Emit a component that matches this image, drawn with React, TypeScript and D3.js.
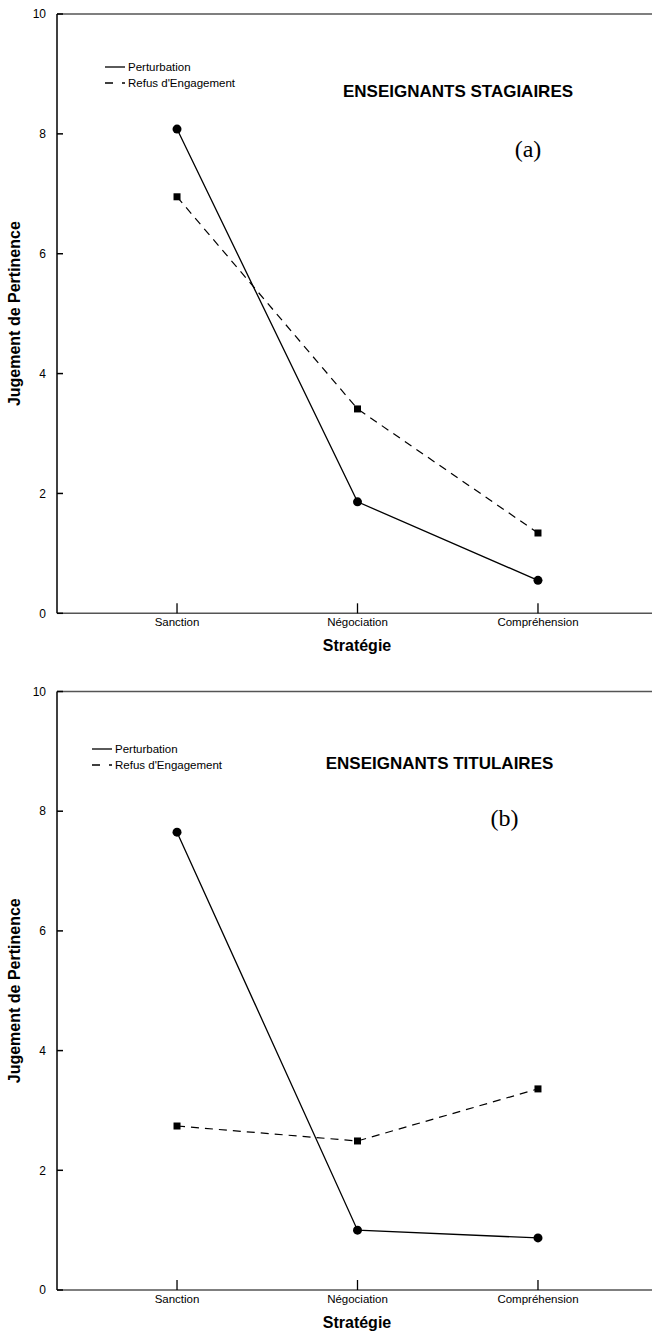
import React from "react";
import * as d3 from "d3";

const categories = ["Sanction", "Négociation", "Compréhension"];
const yTicks = [0, 2, 4, 6, 8, 10];
const stagPerturbation = [8.08, 1.86, 0.55];
const stagRefus = [6.95, 3.41, 1.34];
const titPerturbation = [7.65, 1.0, 0.87];
const titRefus = [2.74, 2.49, 3.36];
const legendLabels = ["Perturbation", "Refus d'Engagement"];

const W = 652;
const H = 1338;
const SANS = "'Liberation Sans', Arial, sans-serif";
const SERIF = "'Liberation Serif', 'Times New Roman', serif";

type PanelProps = {
  top: number;
  bottom: number;
  title: string;
  letter: string;
  perturbation: number[];
  refus: number[];
  titleX: number;
  titleY: number;
  letterX: number;
  letterY: number;
  legendX: number;
  legendY: number;
};

function Panel(p: PanelProps) {
  const left = 57;
  const right = 658;
  const x = d3.scalePoint<string>().domain(categories).range([left, right]).padding(0.665);
  const y = d3.scaleLinear().domain([0, 10]).range([p.bottom, p.top]);
  const line = d3
    .line<number>()
    .x((_, i) => x(categories[i]) as number)
    .y((d) => y(d));
  const midY = (p.top + p.bottom) / 2;
  return (
    <g>
      {/* frame */}
      <line x1={left} x2={W} y1={p.top} y2={p.top} stroke="#555" strokeWidth={1.5} />
      <line x1={left} x2={W} y1={p.bottom} y2={p.bottom} stroke="#555" strokeWidth={1.5} />
      <line x1={left} x2={left} y1={p.top} y2={p.bottom} stroke="#000" strokeWidth={1.5} />
      {yTicks.map((t) => (
        <g key={t}>
          <line x1={left} x2={left + 6} y1={y(t)} y2={y(t)} stroke="#000" strokeWidth={1.5} />
          <text x={left - 11} y={y(t)} dy="0.35em" textAnchor="end" fontFamily={SANS} fontSize={12}>
            {t}
          </text>
        </g>
      ))}
      {categories.map((c) => (
        <g key={c}>
          <line x1={x(c)} x2={x(c)} y1={p.bottom} y2={p.bottom - 10} stroke="#000" strokeWidth={1.3} />
          <text x={x(c)} y={p.bottom + 13} textAnchor="middle" fontFamily={SANS} fontSize={11.5}>
            {c}
          </text>
        </g>
      ))}
      <text x={357} y={p.bottom + 38} textAnchor="middle" fontFamily={SANS} fontSize={16} fontWeight="bold">
        Stratégie
      </text>
      <text
        transform={`translate(20,${midY}) rotate(-90)`}
        textAnchor="middle"
        fontFamily={SANS}
        fontSize={16}
        fontWeight="bold"
      >
        Jugement de Pertinence
      </text>
      {/* series */}
      <path d={line(p.refus) || ""} fill="none" stroke="#000" strokeWidth={1.2} strokeDasharray="8,6" />
      <path d={line(p.perturbation) || ""} fill="none" stroke="#000" strokeWidth={1.3} />
      {p.perturbation.map((v, i) => (
        <circle key={i} cx={x(categories[i])} cy={y(v)} r={4.5} fill="#000" />
      ))}
      {p.refus.map((v, i) => (
        <rect key={i} x={(x(categories[i]) as number) - 3.5} y={y(v) - 3.5} width={7} height={7} fill="#000" />
      ))}
      {/* legend */}
      <line x1={p.legendX} x2={p.legendX + 20} y1={p.legendY} y2={p.legendY} stroke="#000" strokeWidth={1.3} />
      <text x={p.legendX + 23} y={p.legendY} dy="0.35em" fontFamily={SANS} fontSize={11.5}>
        {legendLabels[0]}
      </text>
      <line
        x1={p.legendX}
        x2={p.legendX + 20}
        y1={p.legendY + 16}
        y2={p.legendY + 16}
        stroke="#000"
        strokeWidth={1.3}
        strokeDasharray="8,9,3"
      />
      <text x={p.legendX + 23} y={p.legendY + 16} dy="0.35em" fontFamily={SANS} fontSize={11.5}>
        {legendLabels[1]}
      </text>
      {/* titles */}
      <text x={p.titleX} y={p.titleY} textAnchor="middle" fontFamily={SANS} fontSize={17} fontWeight="bold">
        {p.title}
      </text>
      <text x={p.letterX} y={p.letterY} textAnchor="middle" fontFamily={SERIF} fontSize={24}>
        {p.letter}
      </text>
    </g>
  );
}

export default function App() {
  return (
    <svg
      width={W}
      height={H}
      viewBox={`0 0 ${W} ${H}`}
      style={{ position: "absolute", left: 0, top: 0, background: "#fff" }}
    >
      <rect width={W} height={H} fill="#fff" />
      <Panel
        top={14}
        bottom={613.3}
        title="ENSEIGNANTS STAGIAIRES"
        letter="(a)"
        perturbation={stagPerturbation}
        refus={stagRefus}
        titleX={458}
        titleY={96.5}
        letterX={528}
        letterY={157}
        legendX={105}
        legendY={67}
      />
      <Panel
        top={691.5}
        bottom={1290}
        title="ENSEIGNANTS TITULAIRES"
        letter="(b)"
        perturbation={titPerturbation}
        refus={titRefus}
        titleX={439.5}
        titleY={769}
        letterX={504.5}
        letterY={826}
        legendX={92}
        legendY={749}
      />
    </svg>
  );
}
